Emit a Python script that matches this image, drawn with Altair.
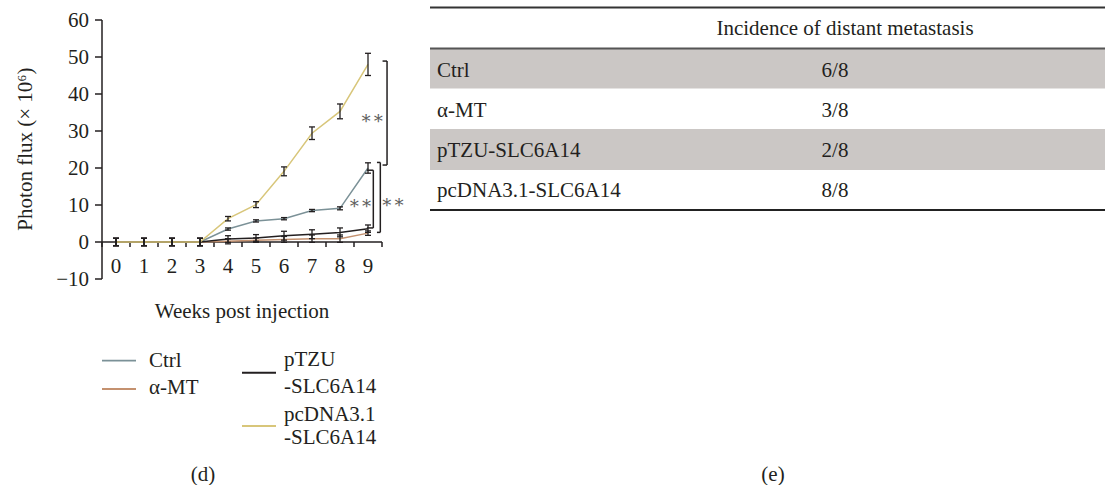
import altair as alt
import pandas as pd

# ---- data -------------------------------------------------------------
weeks = list(range(10))
groups = ["Ctrl", "α-MT", "pTZU-SLC6A14", "pcDNA3.1-SLC6A14"]

ctrl = [0, 0, 0, 0, 3.5, 5.7, 6.3, 8.5, 9.1, 20.0]
ctrl_err = [1.0, 1.0, 1.0, 1.0, 0.3, 0.3, 0.3, 0.3, 0.4, 1.4]
amt = [0, 0, 0, 0, 0.2, 0.5, 0.7, 0.9, 0.9, 2.4]
amt_err = [1.0, 1.0, 1.0, 1.0, 0.7, 0.6, 0.8, 1.0, 1.0, 0.6]
ptzu = [0, 0, 0, 0, 0.8, 1.1, 1.7, 2.1, 2.6, 3.6]
ptzu_err = [1.0, 1.0, 1.0, 1.0, 0.9, 0.9, 1.2, 1.2, 1.2, 1.0]
pcdna = [0, 0, 0, 0, 6.3, 10.1, 19.1, 29.4, 35.3, 48.0]
pcdna_err = [1.0, 1.0, 1.0, 1.0, 0.6, 0.8, 1.2, 1.7, 2.0, 3.0]

y_ticks = [-10, 0, 10, 20, 30, 40, 50, 60]

# significance brackets: vertical line x, tick start x, top, bottom
br_x = [9.68, 9.19, 9.44]
br_xs = [9.52, 8.96, 9.32]
br_top = [48.9, 19.4, 21.5]
br_bot = [20.8, 3.8, 2.6]
star_x = [9.14, 8.72, 9.88]
star_y = [33.2, 10.2, 10.6]
star_text = ["∗∗", "∗∗", "∗∗"]

x_title = "Weeks post injection"
y_title = "Photon flux (× 10⁶)"

legend_lines = [["Ctrl"], ["α-MT"], ["pTZU", "-SLC6A14"], ["pcDNA3.1", "-SLC6A14"]]

table_header = "Incidence of distant metastasis"
table_groups = ["Ctrl", "α-MT", "pTZU-SLC6A14", "pcDNA3.1-SLC6A14"]
incidence = ["6/8", "3/8", "2/8", "8/8"]

captions = ["(d)", "(e)"]

# ---- style ------------------------------------------------------------
FONT = "Liberation Serif"
FS = 21
INK = "#231f20"
colors = ["#7b9197", "#c4916f", "#231f20", "#d8c67a"]
widths = [1.5, 1.5, 1.8, 1.6]
ROW_FILL = "#cbc7c5"

# ---- layout (page pixels) ---------------------------------------------
X0, Y0 = 102, 20          # plot origin on the page
W, H = 280, 259           # plot area
PAGE_W, PAGE_H = 1105, 485
YMIN, YMAX = -10, 60
XMIN, XMAX = weeks[0] - 0.5, weeks[-1] + 0.5

xs = alt.Scale(domain=[XMIN, XMAX], nice=False, zero=False)
ys = alt.Scale(domain=[YMIN, YMAX], nice=False, zero=False)

x_per_px = (XMAX - XMIN) / W
y_per_px = (YMAX - YMIN) / H
axis_y = Y0 + H - (0 - YMIN) / y_per_px      # page y of the x axis (value 0)

# ---- frames -----------------------------------------------------------
series = [ctrl, amt, ptzu, pcdna]
errors = [ctrl_err, amt_err, ptzu_err, pcdna_err]
rows = []
for g, vals, errs in zip(groups, series, errors):
    for w, v, e in zip(weeks, vals, errs):
        rows.append({"group": g, "week": w, "value": v, "lo": v - e, "hi": v + e})
df = pd.DataFrame(rows)

edges = pd.DataFrame({"week": [XMIN] + [w + 0.5 for w in weeks]})
edges["value"] = 0.0
edges["value2"] = -5 * y_per_px                     # 5 px downward ticks
wk = pd.DataFrame({"week": weeks, "label": [str(w) for w in weeks]})
wk["value"] = 0.0
yt = pd.DataFrame({"value": y_ticks, "label": [str(v).replace("-", "−") for v in y_ticks]})
yt["week"] = XMIN
yt["week2"] = XMIN - 7 * x_per_px                   # 7 px outward ticks
x_dom = pd.DataFrame({"week": [XMIN], "week2": [XMAX], "value": [0.0]})
y_dom = pd.DataFrame({"week": [XMIN], "value": [YMIN], "value2": [YMAX]})

brackets = pd.DataFrame({"week": br_x, "week2": br_xs, "value": br_top, "value2": br_bot})
stars = pd.DataFrame({"week": star_x, "value": star_y, "label": star_text})
dummy = pd.DataFrame({"k": [0]})

X = lambda f="week": alt.X(f"{f}:Q", scale=xs, axis=None)
Y = lambda f="value": alt.Y(f"{f}:Q", scale=ys, axis=None)

# ---- axes -------------------------------------------------------------
axes = [
    alt.Chart(x_dom).mark_rule(color=INK, strokeWidth=1.5).encode(x=X(), x2="week2:Q", y=Y()),
    alt.Chart(edges).mark_rule(color=INK, strokeWidth=1.5).encode(x=X(), y=Y(), y2="value2:Q"),
    alt.Chart(wk).mark_text(
        font=FONT, fontSize=FS, color=INK, align="center", baseline="alphabetic",
        dy=272.5 - axis_y,
    ).encode(x=X(), y=Y(), text="label:N"),
    alt.Chart(y_dom).mark_rule(color=INK, strokeWidth=1.5).encode(x=X(), y=Y(), y2="value2:Q"),
    alt.Chart(yt).mark_rule(color=INK, strokeWidth=1.5).encode(x=X(), x2="week2:Q", y=Y()),
    alt.Chart(yt).mark_text(
        font=FONT, fontSize=FS, color=INK, align="right", baseline="middle", dx=-13, dy=1,
    ).encode(x=X(), y=Y(), text="label:N"),
]

# ---- data marks -------------------------------------------------------
lines = alt.Chart(df).mark_line().encode(
    x=X(), y=Y(),
    color=alt.Color("group:N", scale=alt.Scale(domain=groups, range=colors), legend=None),
    strokeWidth=alt.StrokeWidth("group:N", scale=alt.Scale(domain=groups, range=widths), legend=None),
    order="week:Q",
)
err_rule = alt.Chart(df).mark_rule(color=INK, strokeWidth=1.3).encode(x=X(), y=Y("lo"), y2="hi:Q")
cap_lo = alt.Chart(df).mark_tick(orient="horizontal", size=6, thickness=1.3, color=INK, opacity=1).encode(
    x=X(), y=Y("lo")
)
cap_hi = alt.Chart(df).mark_tick(orient="horizontal", size=6, thickness=1.3, color=INK, opacity=1).encode(
    x=X(), y=Y("hi")
)

br_vert = alt.Chart(brackets).mark_rule(color=INK, strokeWidth=1.5).encode(x=X(), y=Y(), y2="value2:Q")
br_top_tick = alt.Chart(brackets).mark_rule(color=INK, strokeWidth=1.5).encode(x=X("week2"), x2="week:Q", y=Y())
br_bot_tick = alt.Chart(brackets).mark_rule(color=INK, strokeWidth=1.5).encode(x=X("week2"), x2="week:Q", y=Y("value2"))
star_marks = alt.Chart(stars).mark_text(
    font="DejaVu Serif", fontSize=18, color="#5e5e5e", baseline="middle", align="center"
).encode(x=X(), y=Y(), text="label:N")


def text_at(s, ax, ay, align="left", size=FS, color=INK, angle=0):
    return alt.Chart(dummy).mark_text(
        text=s, align=align, baseline="alphabetic", font=FONT, fontSize=size,
        color=color, angle=angle,
    ).encode(x=alt.value(ax - X0), y=alt.value(ay - Y0))


def hrule(ax1, ax2, ay, color, width):
    return alt.Chart(dummy).mark_rule(color=color, strokeWidth=width).encode(
        x=alt.value(ax1 - X0), x2=alt.value(ax2 - X0), y=alt.value(ay - Y0)
    )


def band(ax1, ax2, ay1, ay2, color):
    return alt.Chart(dummy).mark_rect(color=color).encode(
        x=alt.value(ax1 - X0), x2=alt.value(ax2 - X0),
        y=alt.value(ay1 - Y0), y2=alt.value(ay2 - Y0)
    )


extras = []

# axis titles
extras.append(text_at(x_title, X0 + W / 2, 318, align="center"))
extras.append(text_at(y_title, 32, 149, align="center", angle=270))

# legend: two columns of swatch + label
sw_x = [(102, 136), (102, 136), (242, 276), (242, 276)]
sw_y = [360.7, 389, 372.7, 426]
lab_x = [149, 149, 284, 284]
lab_base = [[367], [394], [366, 392.7], [421, 443.5]]
for i in range(4):
    extras.append(hrule(sw_x[i][0], sw_x[i][1], sw_y[i], colors[i], widths[i] + 0.3))
    for txt, b in zip(legend_lines[i], lab_base[i]):
        extras.append(text_at(txt, lab_x[i], b))

# table on the right
TL, TR = 430, PAGE_W
row_top = [48.5, 88.5, 129, 170, 210]
row_base = [76.7, 117.3, 157, 197.3]
for i in (0, 2):
    extras.append(band(TL, TR, row_top[i], row_top[i + 1], ROW_FILL))
extras.append(hrule(TL, TR, 7.5, "#333333", 2))
extras.append(hrule(TL, TR, 48.5, "#555555", 2))
extras.append(hrule(TL, TR, 210, "#222222", 2))
extras.append(text_at(table_header, 845, 35, align="center"))
for g, v, b in zip(table_groups, incidence, row_base):
    extras.append(text_at(g, 437, b))
    extras.append(text_at(v, 835, b, align="center"))

# panel captions
extras.append(text_at(captions[0], 203, 481, align="center"))
extras.append(text_at(captions[1], 773, 481, align="center"))

chart = alt.layer(
    *axes, lines, err_rule, cap_lo, cap_hi,
    br_vert, br_top_tick, br_bot_tick, star_marks, *extras
).properties(
    width=W, height=H,
    padding={"left": X0, "top": Y0, "right": PAGE_W - X0 - W, "bottom": PAGE_H - Y0 - H},
    autosize=alt.AutoSizeParams(type="none"),
    background="white",
).configure_view(stroke=None)

chart.save("out.html", embed_options={"renderer": "svg", "actions": False})
